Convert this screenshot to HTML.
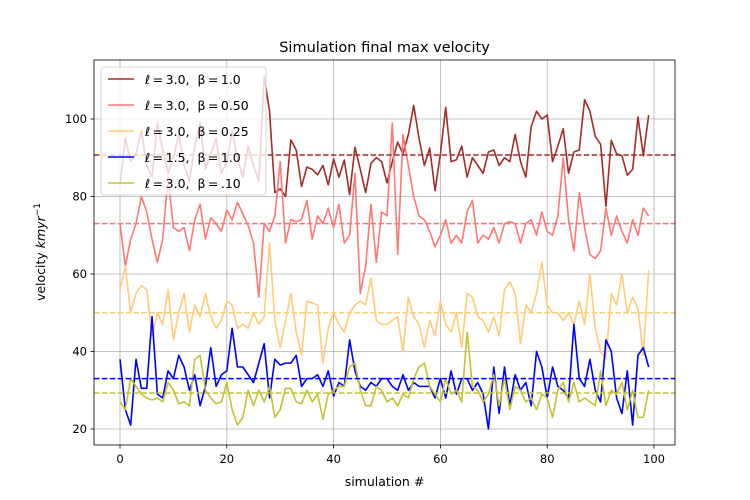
<!DOCTYPE html>
<html><head><meta charset="utf-8"><style>
body{margin:0;background:#fff;}
svg{display:block;font-family:"DejaVu Sans","Liberation Sans",sans-serif;}
</style></head><body>
<svg id="chart" width="750" height="500" viewBox="0 0 750 500" xmlns="http://www.w3.org/2000/svg">
<rect width="750" height="500" fill="#fff"/>
<text x="384.5" y="52" font-size="14.5" text-anchor="middle">Simulation final max velocity</text>
<text x="384.5" y="486" font-size="12.5" text-anchor="middle">simulation #</text>
<text transform="translate(45,252) rotate(-90)" font-size="12.5" text-anchor="middle">velocity <tspan font-style="italic">kmyr</tspan><tspan dy="-5" font-size="9">−1</tspan></text>
<g id="grid"></g><g id="series"></g><g id="axes"></g><g id="legend"></g>
</svg>
<script>
const xTicks=[0,20,40,60,80,100];
const yTicks=[20,40,60,80,100];
const seriesLabels=["β = 1.0","β = 0.50","β = 0.25","β = 1.0","β = .10"];
const ellLabels=["3.0","3.0","3.0","1.5","3.0"];
const meanValues=[90.7,73,50,33,29.3];
const sDarkRed=[83,95,89,91,97,88,85,99,92,86,90,96,88,84,93,99,87,91,95,86,89,97,90,85,93,88,84,111,
102,81,82,80,94.6,92,82.6,87.6,87,85.6,88,83,89.7,85,89.4,80.5,92.7,87,81,88.6,90,89,
83.5,89,94,91,96,103.5,95,88,92.5,81.5,91,103,89,89.5,93,85,90,88,86,91.5,
92,88,90,89,96,89,85,98,102,100,101,89,93,97.5,86,91.5,92,105,102,95.5,93.5,77.5,94.5,91,90.5,85.5,87,100.5,90.5,101];
const sRed=[73,62,69,73,80,76,69,63,69,85,72,71,72,66,74,78,69,74.5,73,71,76.5,74,78.5,75.5,72.5,68,54,73,71,75,
89,68,74,73.5,74,79,69,75,73,77,72,78,68,70,86,55,62,78,63,76,75,99,65,96,88,80,75,74,71,67,
70,74,68,70,68,76,79,68,70,69,72,68,73,73.5,73,68,73,74,70,76,71,70,75,90,74,66,81,72,65,64,
66,77,70,75,71,68,74,70,77,75];
const sOrange=[56,62,50,55,57,56,44,50,47,56,43,50,55,45,52,49,55,49,46,48,53,52,46,47,46,50,47,49,68,48,
41,48,55,45,39,53,52.5,52,37,46,50,47,45,50,52,53,52,59,48,47,47,48,49,40,54,49,47,41,48,44,
53,47,45,50,41,55,54,49,48,45,49,44,56,58,55,42,52,50,55,63,52,50,50,48,50,47,53,47,60,46,
40,38,55,52,60,50,54,51,39,61];
const sBlue=[38,25,21,38,30.5,30.5,49,29,28,35,33,39,36,30,34,26,31,41,31,34,35,46,36,36,34,32,37,42,28,38,
36.5,37,37,39,31,33,33,34,31,35,28.5,32,31,43,35,31,30,32,31,33,33,31,30,34,30,32,31,31,31,28,
33,28,35,29,33,33,30,32,29,20,36,24,36,26,34,30,32,26,40,36,28,36,31,30,28,47,33,31,38,30,
27,43,40,28,24,35,21,39,41,36];
const sOlive=[27,25,33,31,29,28,27.5,28,27,32,30,26.5,27,26,38,39,30,28,26.5,27,32,25,21,23,30,26,30,27,31,23,
25,30.5,30.5,27,26.5,30,27,29,22.5,29,30,31,31,36,37,30,26,26,31,30,27,28,26,29,28,33,36,37,31,29,
27,33,29,30,27,45,31,30,27,29,34,26,33,25,31,30,27,28,25,29,28,23,30,32,27,32,27,28,27,26,
35,26,30,29,32,25,30,23,23,30];
const allSeries=[sDarkRed,sRed,sOrange,sBlue,sOlive];
const colors=["#a52a2a","#ff7777","#ffcc77","#0000ff","#c4c233"];
const names=["brown","red","orange","blue","olive"];

const X0=120,XS=5.34,Y20=429,YS=3.875;
const xPix=v=>X0+v*XS;
const yPix=v=>Y20-(v-20)*YS;
const NS="http://www.w3.org/2000/svg";
function mk(tag,attrs,parent){const e=document.createElementNS(NS,tag);for(const k in attrs)e.setAttribute(k,attrs[k]);parent.appendChild(e);return e;}
const grid=document.getElementById('grid'),ser=document.getElementById('series'),axes=document.getElementById('axes'),leg=document.getElementById('legend');
const L=94,R=675,T=60,B=445;
xTicks.forEach(t=>{const x=xPix(t);
 const g=mk('line',{x1:x,x2:x,y1:T,y2:B,stroke:'#b0b0b0','stroke-width':0.8},grid);
 
 mk('line',{x1:x,x2:x,y1:B,y2:B+3.5,stroke:'#000','stroke-width':0.8},axes);
 const tx=mk('text',{x:x,y:B+18,'font-size':11.5,'text-anchor':'middle'},axes);tx.textContent=t;
 });
yTicks.forEach(t=>{const y=yPix(t);
 const g=mk('line',{x1:L,x2:R,y1:y,y2:y,stroke:'#b0b0b0','stroke-width':0.8},grid);
 
 mk('line',{x1:L-3.5,x2:L,y1:y,y2:y,stroke:'#000','stroke-width':0.8},axes);
 const tx=mk('text',{x:L-7,y:y+4,'font-size':11.5,'text-anchor':'end'},axes);tx.textContent=t;
 });
const fr=mk('rect',{x:L,y:T,width:R-L,height:B-T,fill:'none',stroke:'#000','stroke-width':0.8},axes);

allSeries.forEach((s,k)=>{
 const pts=s.map((v,i)=>xPix(i).toFixed(2)+','+yPix(v).toFixed(2)).join(' ');
 const pl=mk('polyline',{points:pts,fill:'none',stroke:colors[k],'stroke-width':1.6,'stroke-linejoin':'round'},ser);
 
});
meanValues.forEach((m,k)=>{
 const y=yPix(m);
 const ln=mk('line',{x1:L,x2:R,y1:y,y2:y,stroke:colors[k],'stroke-width':1.5,'stroke-dasharray':'5.5,2.4'},ser);
 
});
const box=mk('rect',{x:101,y:67,width:165,height:128,rx:3,fill:'#fff','fill-opacity':0.8,stroke:'#cccccc','stroke-width':0.8},leg);

seriesLabels.forEach((lab,k)=>{
 const y=79+k*26;
 const ln=mk('line',{x1:108,x2:134,y1:y,y2:y,stroke:colors[k],'stroke-width':1.5},leg);
 
 const tx=mk('text',{x:145,y:y+5,'font-size':12.5},leg);
 tx.innerHTML='<tspan font-style="italic">ℓ</tspan>\u2009=\u20093.0,\u00a0\u00a0'.replace('3.0',ellLabels[k])+lab.replace(/ /g,'\u2009');
 
});
</script>
</body></html>
